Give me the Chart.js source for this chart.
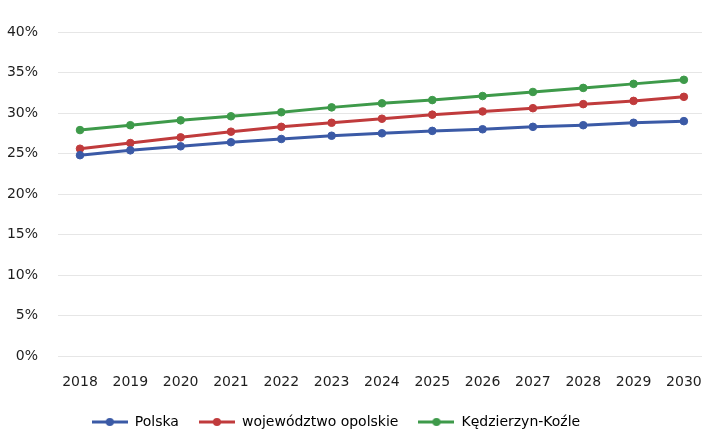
<!DOCTYPE html>
<html>
<head>
<meta charset="utf-8">
<script src="https://cdn.jsdelivr.net/npm/chart.js@4"></script>
<style>
  html, body { margin: 0; padding: 0; background: #fff; }
  #wrap { width: 707px; height: 445px; position: relative; }
</style>
</head>
<body>
<div id="wrap"><canvas id="chart"></canvas></div>
<script>
const years = [2018, 2019, 2020, 2021, 2022, 2023, 2024, 2025, 2026, 2027, 2028, 2029, 2030];
const polska = [24.8, 25.4, 25.9, 26.4, 26.8, 27.2, 27.5, 27.8, 28.0, 28.3, 28.5, 28.8, 29.0];
const opolskie = [25.6, 26.3, 27.0, 27.7, 28.3, 28.8, 29.3, 29.8, 30.2, 30.6, 31.1, 31.5, 32.0];
const kedzierzyn = [27.9, 28.5, 29.1, 29.6, 30.1, 30.7, 31.2, 31.6, 32.1, 32.6, 33.1, 33.6, 34.1];
const seriesNames = ['Polska', 'województwo opolskie', 'Kędzierzyn-Koźle'];
const yTicks = [0, 5, 10, 15, 20, 25, 30, 35, 40];

const colors = ['#3b5aa6', '#c03b3c', '#3e9a4a'];
const FONT = 'DejaVu Sans';

// small line+marker image for the legend
const legendIcon = color => {
  const c = document.createElement('canvas');
  c.width = 36; c.height = 10;
  const g = c.getContext('2d');
  g.strokeStyle = color;
  g.lineWidth = 3;
  g.beginPath();
  g.moveTo(0, 5);
  g.lineTo(36, 5);
  g.stroke();
  g.fillStyle = color;
  g.beginPath();
  g.arc(18, 5, 4, 0, Math.PI * 2);
  g.fill();
  return c;
};

// legend in the original sits a bit left of centre
const shiftLegend = {
  id: 'shiftLegend',
  afterLayout(chart) { chart.legend.left -= 40; },
};

const toPoints = arr => arr.map((v, i) => ({ x: years[i], y: v }));

const makeSet = (label, values, color) => ({
  label,
  data: toPoints(values),
  borderColor: color,
  backgroundColor: color,
  borderWidth: 3,
  pointRadius: 3.8,
  pointBorderWidth: 1,
  pointHoverRadius: 4,
  pointBackgroundColor: color,
  pointBorderColor: color,
  tension: 0,
});

new Chart(document.getElementById('chart'), {
  type: 'line',
  data: {
    datasets: [
      makeSet(seriesNames[0], polska, colors[0]),
      makeSet(seriesNames[1], opolskie, colors[1]),
      makeSet(seriesNames[2], kedzierzyn, colors[2]),
    ],
  },
  plugins: [shiftLegend],
  options: {
    responsive: true,
    maintainAspectRatio: false,
    animation: false,
    layout: { padding: { top: 32, right: 2, left: 7, bottom: 6 } },
    plugins: {
      tooltip: { enabled: false },
      legend: {
        position: 'bottom',
        labels: {
          usePointStyle: true,
          pointStyleWidth: 36,
          boxHeight: 10,
          padding: 20,
          color: '#1e1e1e',
          font: { family: FONT, size: 14 },
          generateLabels: chart => chart.data.datasets.map((ds, i) => ({
            text: ds.label,
            pointStyle: legendIcon(colors[i]),
            fillStyle: colors[i],
            strokeStyle: colors[i],
            lineWidth: 0,
            datasetIndex: i,
            hidden: false,
          })),
        },
      },
    },
    scales: {
      x: {
        type: 'linear',
        min: 2017.563,
        max: 2030.36,
        afterBuildTicks: axis => { axis.ticks = years.map(v => ({ value: v })); },
        afterFit: axis => {
          axis.paddingLeft = 0;
          axis.paddingRight = 0;
          axis.height -= 6;
        },
        ticks: {
          callback: v => String(v),
          color: '#1e1e1e',
          padding: 10,
          maxRotation: 0,
          font: { family: FONT, size: 14 },
        },
        grid: { display: false },
        border: { display: false },
      },
      y: {
        min: 0,
        max: 40,
        afterBuildTicks: axis => { axis.ticks = yTicks.map(v => ({ value: v })); },
        afterFit: axis => { axis.width = 51; },
        ticks: {
          callback: v => v + '%',
          color: '#1e1e1e',
          padding: 20,
          font: { family: FONT, size: 14 },
        },
        grid: { color: '#e6e6e6', lineWidth: 1, drawTicks: false },
        border: { display: false },
      },
    },
  },
});
</script>
</body>
</html>
